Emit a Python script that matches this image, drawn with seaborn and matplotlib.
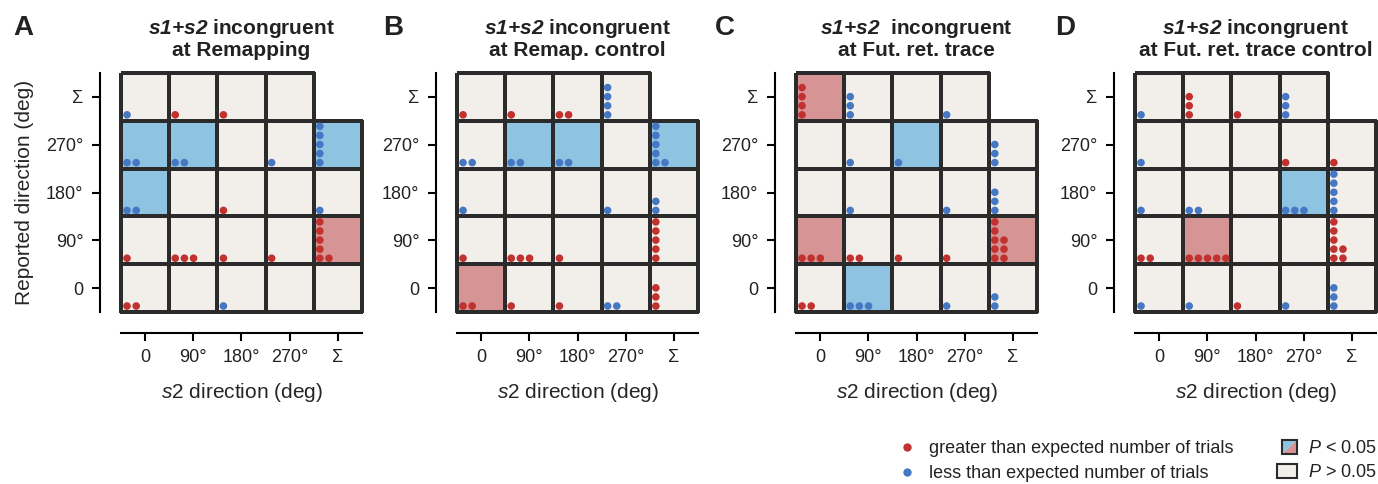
import matplotlib
matplotlib.use("Agg")
import matplotlib.pyplot as plt
import seaborn as sns
import pandas as pd
import numpy as np
from matplotlib.colors import ListedColormap, to_rgba
from matplotlib.lines import Line2D
from matplotlib.patches import Polygon, Rectangle
from matplotlib.legend_handler import HandlerBase

# grid rows (top -> bottom) and columns (left -> right)
row_labels = ["Σ", "270°", "180°", "90°", "0"]
col_labels = ["0", "90°", "180°", "270°", "Σ"]

titles = ["at Remapping", "at Remap. control", "at Fut. ret. trace", "at Fut. ret. trace control"]
title_gap = [" ", " ", "  ", " "]
letters = ["A", "B", "C", "D"]

# cell significance: 1 = more trials (red), -1 = fewer trials (blue), 0 = n.s.
A_sig = [[0, 0, 0, 0, np.nan],
         [-1, -1, 0, 0, -1],
         [-1, 0, 0, 0, 0],
         [0, 0, 0, 0, 1],
         [0, 0, 0, 0, 0]]
B_sig = [[0, 0, 0, 0, np.nan],
         [0, -1, -1, 0, -1],
         [0, 0, 0, 0, 0],
         [0, 0, 0, 0, 0],
         [1, 0, 0, 0, 0]]
C_sig = [[1, 0, 0, 0, np.nan],
         [0, 0, -1, 0, 0],
         [0, 0, 0, 0, 0],
         [1, 0, 0, 0, 1],
         [0, -1, 0, 0, 0]]
D_sig = [[0, 0, 0, 0, np.nan],
         [0, 0, 0, 0, 0],
         [0, 0, 0, -1, 0],
         [0, 1, 0, 0, 0],
         [0, 0, 0, 0, 0]]

# dots per cell: stack heights of each dot column (+ red, - blue)
A_dots = [[[-1], [1], [1], [], []],
          [[-1, -1], [-1, -1], [], [-1], [-5]],
          [[-1, -1], [], [1], [], [-1]],
          [[1], [1, 1, 1], [1], [1], [5, 1]],
          [[1, 1], [], [-1], [], []]]
B_dots = [[[1], [1], [1, 1], [-4], []],
          [[-1, -1], [-1, -1], [-1, -1], [], [-5, -1]],
          [[-1], [], [], [-1], [-2]],
          [[1], [1, 1, 1], [1], [], [5]],
          [[1, 1], [1], [1], [-1, -1], [3]]]
C_dots = [[[4], [-3], [], [-1], []],
          [[], [-1], [-1], [], [-3]],
          [[], [-1], [], [-1], [-3]],
          [[1, 1, 1], [1, 1], [1], [1], [5, 3]],
          [[1, 1], [-1, -1, -1], [], [-1], [-2]]]
D_dots = [[[-1], [3], [1], [-3], []],
          [[-1], [], [], [1], [1]],
          [[-1], [-1, -1], [], [-1, -1, -1], [-5]],
          [[1, 1], [1, 1, 1, 1, 1], [], [], [5, 2]],
          [[-1], [-1], [1], [-1], [-3]]]

panel_sig = [A_sig, B_sig, C_sig, D_sig]
panel_dots = [A_dots, B_dots, C_dots, D_dots]

BEIGE = "#f2efea"
RED_BG = "#d69594"
BLUE_BG = "#8ec4e2"
RED_DOT = "#c0312f"
BLUE_DOT = "#4677c3"
GRID = "#2b2b2b"

sns.set_style("ticks")
plt.rcParams["font.family"] = ["Liberation Sans", "DejaVu Sans"]
plt.rcParams["mathtext.fontset"] = "custom"
plt.rcParams["mathtext.rm"] = "Liberation Sans"
plt.rcParams["mathtext.it"] = "Liberation Sans:italic"
plt.rcParams["mathtext.bf"] = "Liberation Sans:italic:bold"
plt.rcParams["text.color"] = "#222222"

W, H = 1378, 484
fig = plt.figure(figsize=(W / 100, H / 100), dpi=100)

lefts = [121, 457, 796, 1135]
letter_x = [13, 383, 715, 1055]
cmap = ListedColormap([BLUE_BG, BEIGE, RED_BG])


def dot_table(cells):
    rows = []
    for r, line in enumerate(cells):
        for c, cols in enumerate(line):
            for k, h in enumerate(cols):
                for j in range(abs(h)):
                    rows.append({"x": c + 0.125 + k * 0.19,
                                 "y": r + 0.875 - j * 0.19,
                                 "kind": "more" if h > 0 else "less"})
    return pd.DataFrame(rows)


for i in range(4):
    ax = fig.add_axes([lefts[i] / W, (H - 312) / H, 241 / W, 239 / H])
    sig = pd.DataFrame(panel_sig[i], index=row_labels, columns=col_labels)
    sns.heatmap(sig, ax=ax, cmap=cmap, vmin=-1.5, vmax=1.5, cbar=False,
                linewidths=1.5, linecolor=GRID)
    mesh = ax.collections[0]
    mesh.set_clip_on(False)
    # no outline for the empty corner cell
    edges = np.tile(to_rgba(GRID), (sig.size, 1))
    edges[sig.isna().to_numpy().ravel()] = (0, 0, 0, 0)
    mesh.set_edgecolor(edges)

    pts = dot_table(panel_dots[i])
    sns.scatterplot(data=pts, x="x", y="y", hue="kind",
                    palette={"more": RED_DOT, "less": BLUE_DOT},
                    s=30, linewidth=0, legend=False, ax=ax, zorder=3, clip_on=False)
    ax.set_xlim(0, 5)
    ax.set_ylim(5, 0)

    for side in ["left", "bottom"]:
        ax.spines[side].set_visible(True)
        ax.spines[side].set_position(("outward", 15))
        ax.spines[side].set_linewidth(1.5)
        ax.spines[side].set_color("black")
    ax.tick_params(length=6, width=1.5, labelsize=13, pad=6, colors="black",
                   labelcolor="#222222")
    ax.set_xticks(np.arange(5) + 0.5, col_labels, rotation=0)
    ax.set_yticks(np.arange(5) + 0.5, row_labels, rotation=0)

    ax.set_xlabel(r"$\mathit{s2}$ direction (deg)", fontsize=15)
    ax.xaxis.set_label_coords(0.5, -0.29)
    if i == 0:
        ax.set_ylabel("Reported direction (deg)", fontsize=15)
        ax.yaxis.set_label_coords(-0.36, 0.5)
    else:
        ax.set_ylabel("")

    ax.set_title(r"$\mathbf{s1{+}s2}$" + title_gap[i] + "incongruent\n" + titles[i],
                 fontsize=15, fontweight="bold", pad=12, linespacing=1.1)
    fig.text(letter_x[i] / W, 1 - 35 / H, letters[i], fontsize=20,
             fontweight="bold", va="baseline", ha="left")


class SplitSquare(HandlerBase):
    def create_artists(self, legend, orig_handle, xdescent, ydescent,
                       width, height, fontsize, trans):
        s = height * 1.0
        x0 = width - s - xdescent
        y0 = -ydescent + (height - s) / 2
        upper = Polygon([[x0, y0], [x0, y0 + s], [x0 + s, y0 + s]], closed=True,
                        facecolor=BLUE_BG, edgecolor="none", transform=trans)
        lower = Polygon([[x0, y0], [x0 + s, y0], [x0 + s, y0 + s]], closed=True,
                        facecolor=RED_BG, edgecolor="none", transform=trans)
        frame = Rectangle((x0, y0), s, s, facecolor="none", edgecolor=GRID,
                          linewidth=1.5, transform=trans)
        return [upper, lower, frame]


dot_handles = [Line2D([], [], marker="o", ls="", color=RED_DOT, markersize=5),
               Line2D([], [], marker="o", ls="", color=BLUE_DOT, markersize=5)]
leg1 = fig.legend(dot_handles,
                  ["greater than expected number of trials",
                   "less than expected number of trials"],
                  loc="upper left", bbox_to_anchor=(898 / W, 1 - 440 / H),
                  frameon=False, fontsize=13, handlelength=1.0, handletextpad=0.7,
                  labelspacing=0.45, borderpad=0, borderaxespad=0)

sq_handles = [Rectangle((0, 0), 1, 1, facecolor=BLUE_BG),
              Rectangle((0, 0), 1, 1, facecolor=BEIGE, edgecolor=GRID, linewidth=1.5)]
leg2 = fig.legend(sq_handles, [r"$\mathit{P}$ < 0.05", r"$\mathit{P}$ > 0.05"],
                  loc="upper left", bbox_to_anchor=(1277 / W, 1 - 440 / H),
                  frameon=False, fontsize=13, handlelength=1.1, handleheight=0.85,
                  handletextpad=0.6, labelspacing=0.35, borderpad=0, borderaxespad=0,
                  handler_map={sq_handles[0]: SplitSquare()})

fig.savefig("out.png", dpi=100)
